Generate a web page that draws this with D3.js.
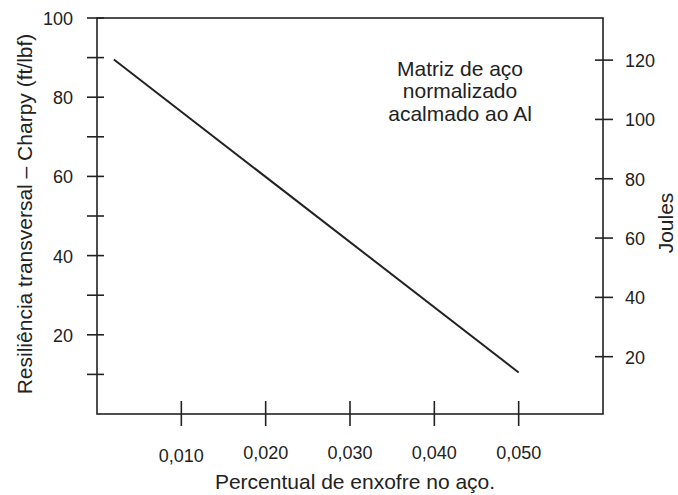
<!DOCTYPE html>
<html><head><meta charset="utf-8">
<script src="https://cdn.jsdelivr.net/npm/d3@7"></script>
<style>body{margin:0;background:#fff}svg text{font-family:"Liberation Sans",Arial,sans-serif;fill:#222}</style>
</head><body><svg id="c" width="678" height="495"></svg>
<script>
const sulfur = [0.002, 0.050];
const charpyFtLbf = [89.5, 10.5];
const xTicks = [0.010, 0.020, 0.030, 0.040, 0.050];
const xTickLabels = ["0,010", "0,020", "0,030", "0,040", "0,050"];
const yMajorTicks = [20, 40, 60, 80, 100];
const yMinorTicks = [10, 30, 50, 70, 90];
const jouleTicks = [20, 40, 60, 80, 100, 120];
const noteLines = ["Matriz de aço", "normalizado", "acalmado ao Al"];

const svg = d3.select("#c");
const L = 97, R = 603, T = 18, B = 414;
const x = d3.scaleLinear().domain([0, 0.060]).range([L, R]);
const y = d3.scaleLinear().domain([0, 100]).range([B, T]);
const yJ = d3.scaleLinear().domain([0, 134.2]).range([416, T]);

function txt(g, s, px, py, size, anchor, rot) {
  return g.append("text").attr("transform", `translate(${px},${py})` + (rot ? ` rotate(${rot})` : ""))
    .attr("text-anchor", anchor).attr("font-size", size).attr("dominant-baseline", "central").text(s);
}

// frame
svg.append("rect").attr("x", L).attr("y", T).attr("width", R - L).attr("height", B - T)
  .attr("fill", "none").attr("stroke", "#222").attr("stroke-width", 1.6);

// left axis ticks
const gl = svg.append("g");
[...yMajorTicks, ...yMinorTicks].forEach(v => {
  gl.append("line").attr("x1", L - 10).attr("x2", L + 7).attr("y1", y(v)).attr("y2", y(v))
    .attr("stroke", "#222").attr("stroke-width", 1.6);
});
yMajorTicks.forEach(v => txt(gl, String(v), 73, y(v) + 1, 18, "end"));

// right axis ticks
const gr = svg.append("g");
jouleTicks.forEach(v => {
  gr.append("line").attr("x1", R - 8).attr("x2", R + 10).attr("y1", yJ(v)).attr("y2", yJ(v))
    .attr("stroke", "#222").attr("stroke-width", 1.6);
  txt(gr, String(v), 625, yJ(v) + 1, 18, "start");
});

// bottom axis ticks
const gb = svg.append("g");
xTicks.forEach((v, i) => {
  gb.append("line").attr("x1", x(v)).attr("x2", x(v)).attr("y1", B - 13).attr("y2", B + 12)
    .attr("stroke", "#222").attr("stroke-width", 1.6);
  txt(gb, xTickLabels[i], x(v), i === 0 ? 456 : 453, 18, "middle");
});

// data line
svg.append("path").datum(sulfur.map((s, i) => [s, charpyFtLbf[i]]))
  .attr("d", d3.line().x(d => x(d[0])).y(d => y(d[1])))
  .attr("fill", "none").attr("stroke", "#222").attr("stroke-width", 2);

// titles
txt(svg, "Percentual de enxofre no aço.", 355, 481, 21, "middle");
txt(svg, "Resiliência transversal – Charpy (ft/lbf)", 24, 214, 21, "middle", -90);
txt(svg, "Joules", 665, 223, 21, "middle", -90);

// note
noteLines.forEach((s, i) => txt(svg, s, 460, 68 + i * 22.5, 21, "middle"));
</script></body></html>
